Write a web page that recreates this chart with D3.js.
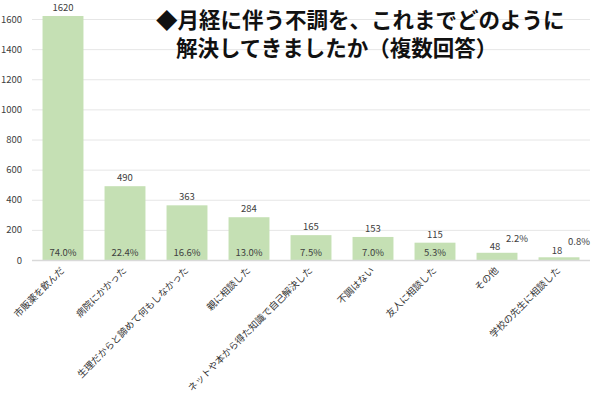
<!DOCTYPE html>
<html lang="ja">
<head>
<meta charset="utf-8">
<title>月経に伴う不調</title>
<script src="https://cdn.jsdelivr.net/npm/d3@7"></script>
<style>
  body { margin: 0; background: #fff; }
  text { font-family: "Noto Sans CJK JP", "Noto Sans", sans-serif; }
</style>
</head>
<body>
<script>
// data
var categories = ["市販薬を飲んだ", "病院にかかった", "生理だからと諦めて何もしなかった", "親に相談した",
                  "ネットや本から得た知識で自己解決した", "不調はない", "友人に相談した", "その他", "学校の先生に相談した"];
var counts = [1620, 490, 363, 284, 165, 153, 115, 48, 18];
var percents = ["74.0%", "22.4%", "16.6%", "13.0%", "7.5%", "7.0%", "5.3%", "2.2%", "0.8%"];
var yTicks = [0, 200, 400, 600, 800, 1000, 1200, 1400, 1600];
var titleLines = ["◆月経に伴う不調を、これまでどのように", "解決してきましたか（複数回答）"];

var w = 600, h = 397;
var plotLeft = 32, plotRight = 590, plotTop = 19, plotBottom = 260;

var svg = d3.select("body").append("svg")
    .attr("width", w)
    .attr("height", h);

var x = d3.scaleBand()
    .domain(categories)
    .range([plotLeft, plotRight])
    .paddingInner(0.34)
    .paddingOuter(0.17);

var y = d3.scaleLinear()
    .domain([0, 1600])
    .range([plotBottom, plotTop]);

// grid lines
svg.append("g")
  .selectAll("line")
  .data(yTicks.slice(1))
  .enter().append("line")
    .attr("x1", plotLeft).attr("x2", plotRight)
    .attr("y1", function(d) { return y(d) + 0.5; })
    .attr("y2", function(d) { return y(d) + 0.5; })
    .attr("stroke", "#e6e6e6")
    .attr("stroke-width", 1);

// y axis labels
var yAxis = d3.axisLeft(y).tickValues(yTicks).tickFormat(d3.format("d")).tickSize(0).tickPadding(10);
var yg = svg.append("g")
    .attr("transform", "translate(" + plotLeft + ",0)")
    .call(yAxis);
yg.select(".domain").remove();
yg.selectAll("text")
    .attr("font-size", "9.5px")
    .attr("fill", "#404040")
    .attr("font-family", "'Noto Sans', sans-serif");

// bars
svg.selectAll("rect.bar")
  .data(categories)
  .enter().append("rect")
    .attr("class", "bar")
    .attr("x", function(d) { return x(d); })
    .attr("width", x.bandwidth())
    .attr("y", function(d, i) { return y(counts[i]); })
    .attr("height", function(d, i) { return plotBottom - y(counts[i]); })
    .attr("fill", "#c5e0b4");

// x axis line
svg.append("line")
    .attr("x1", plotLeft).attr("x2", plotRight)
    .attr("y1", plotBottom + 0.5).attr("y2", plotBottom + 0.5)
    .attr("stroke", "#d9d9d9")
    .attr("stroke-width", 1.5);

// value labels
var small = function(i) { return counts[i] < 100; };
svg.selectAll("text.val")
  .data(categories)
  .enter().append("text")
    .attr("class", "val")
    .attr("x", function(d, i) { return x(d) + x.bandwidth() / 2 + (small(i) ? -2 : 0); })
    .attr("y", function(d, i) { return small(i) ? plotBottom - 10 + (i - 7) * 4 : y(counts[i]) - 5; })
    .attr("text-anchor", "middle")
    .attr("font-size", "9.5px")
    .attr("fill", "#404040")
    .attr("font-family", "'Noto Sans', sans-serif")
    .text(function(d, i) { return counts[i]; });

// percentage labels
svg.selectAll("text.pct")
  .data(categories)
  .enter().append("text")
    .attr("class", "pct")
    .attr("x", function(d, i) { return x(d) + x.bandwidth() / 2 + (small(i) ? 20 : 0); })
    .attr("y", function(d, i) { return small(i) ? plotBottom - 18 + (i - 7) * 3 : plotBottom - 4; })
    .attr("text-anchor", "middle")
    .attr("font-size", "9.5px")
    .attr("fill", "#404040")
    .attr("font-family", "'Liberation Sans Narrow', 'Noto Sans', sans-serif")
    .text(function(d, i) { return percents[i]; });

// category labels, rotated
svg.selectAll("text.cat")
  .data(categories)
  .enter().append("text")
    .attr("class", "cat")
    .attr("transform", function(d) {
      return "translate(" + (x(d) + x.bandwidth() / 2 + 2) + "," + (plotBottom + 11) + ") rotate(-45)";
    })
    .attr("text-anchor", "end")
    .attr("font-size", "9.5px")
    .attr("fill", "#333")
    .text(function(d) { return d; });

// title
svg.selectAll("text.title")
  .data(titleLines)
  .enter().append("text")
    .attr("class", "title")
    .attr("x", function(d, i) { return i === 0 ? 156 : 176; })
    .attr("y", function(d, i) { return 28 + i * 28; })
    .attr("font-size", "21.5px")
    .attr("font-weight", "bold")
    .attr("fill", "#111")
    .text(function(d) { return d; });
</script>
</body>
</html>
